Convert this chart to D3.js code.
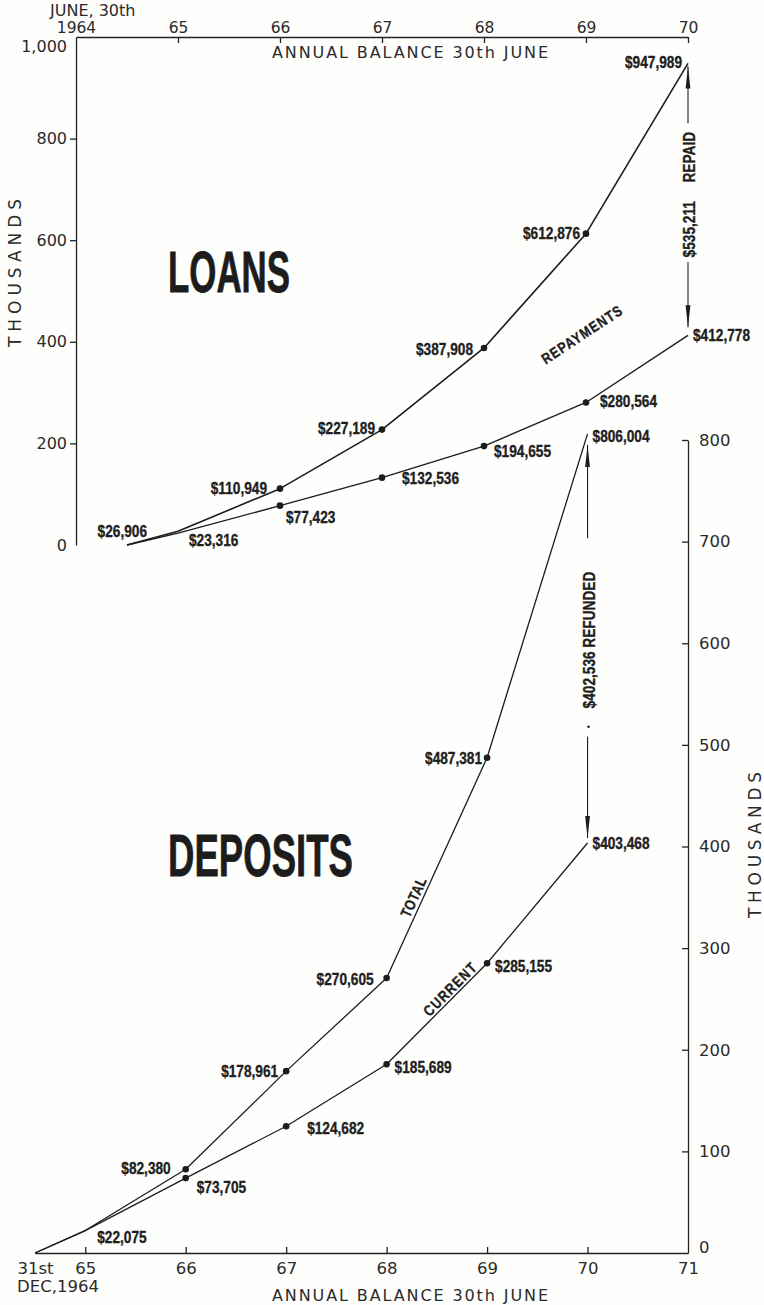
<!DOCTYPE html>
<html>
<head>
<meta charset="utf-8">
<script src="https://cdn.jsdelivr.net/npm/d3@7"></script>
<style>
  body { margin: 0; background: #fefefd; }
  svg { display: block; }
  .val { font-family: "Liberation Sans Narrow", "Liberation Sans", Arial, sans-serif; font-weight: bold; font-size: 16.5px; fill: #1e1e1e; stroke: #1e1e1e; stroke-width: 0.35px; }
  .lbl { font-family: "DejaVu Sans", sans-serif; fill: #2b2b2b; }
  .big { font-family: "Liberation Sans Narrow", "Liberation Sans", Arial, sans-serif; font-weight: bold; fill: #1c1c1c; stroke: #1c1c1c; stroke-width: 0.8px; }
</style>
</head>
<body>
<script>
// values in thousands of dollars, years = balance at 30th June (1964.5 = 31st Dec 1964)
const loanYears = [1964.5, 1965, 1966, 1967, 1968, 1969, 1970];
const loansTotal = [0, 26.906, 110.949, 227.189, 387.908, 612.876, 947.989];
const loansRepaid = [0, 23.316, 77.423, 132.536, 194.655, 280.564, 412.778];

const depYears = [1964.5, 1965, 1966, 1967, 1968, 1969, 1970];
const depTotal = [0, 22.075, 82.380, 178.961, 270.605, 487.381, 806.004];
const depCurrent = [0, 22.075, 73.705, 124.682, 185.689, 285.155, 403.468];

const topTicks = [1964, 1965, 1966, 1967, 1968, 1969, 1970];
const bottomTicks = [1964.5, 1965, 1966, 1967, 1968, 1969, 1970, 1971];
const loanTicks = [0, 200, 400, 600, 800, 1000];
const depTicks = [0, 100, 200, 300, 400, 500, 600, 700, 800];

// label placement [dx, dy, anchor] per point (layout only)
const loanTotalLab = [null, [-31, 6, "end"], [-13, 5, "end"], [-7, 4, "end"], [-11, 7, "end"], [-6, 5, "end"], [-6, 5, "end"]];
const loanRepaidLab = [null, [11, 13, "start"], [6, 17, "start"], [20, 6, "start"], [10, 11, "start"], [14, 5, "start"], [5, 6, "start"]];
const depTotalLab = [null, [12, 12, "start"], [-15, 5, "end"], [-8, 6, "end"], [-13, 7, "end"], [-5, 6, "end"], [5, 8, "start"]];
const depCurrentLab = [null, null, [11, 15, "start"], [21, 8, "start"], [8, 9, "start"], [8, 9, "start"], [5, 6, "start"]];

const width = 764, height = 1305;
const ink = "#1c1c1c";

const svg = d3.select("body").append("svg")
	.attr("width", width)
	.attr("height", height);

const xTop = d3.scaleLinear().domain([1964, 1970]).range([76, 688]);
const yLoan = d3.scaleLinear().domain([0, 1000]).range([545, 37]);
const xBot = d3.scaleLinear().domain([1964.5, 1971]).range([35, 688]);
const yDep = d3.scaleLinear().domain([0, 800]).range([1253, 440]);

const money = (v) => "$" + d3.format(",")(Math.round(v * 1000));

function styleAxis(g, size) {
	g.attr("font-family", "DejaVu Sans, sans-serif").attr("font-size", size);
	g.selectAll("path, line").attr("stroke", "#222").attr("stroke-width", 1.3);
	g.selectAll("text").attr("fill", "#2b2b2b");
}

// ---- axes ----
const topAxis = svg.append("g")
	.attr("transform", `translate(0,${yLoan(1000)})`)
	.call(d3.axisTop(xTop).tickValues(topTicks).tickSizeInner(-6).tickSizeOuter(0).tickPadding(4)
		.tickFormat((d) => (d === 1964 ? "1964" : String(d % 100))));
styleAxis(topAxis, 15.5);
topAxis.selectAll(".tick").filter((d) => d === 1964).select("line").remove();

const leftAxis = svg.append("g")
	.attr("transform", `translate(${xTop(1964)},0)`)
	.call(d3.axisLeft(yLoan).tickValues(loanTicks).tickSizeInner(6).tickSizeOuter(0).tickPadding(3)
		.tickFormat(d3.format(",")));
styleAxis(leftAxis, 16);
leftAxis.selectAll(".tick").filter((d) => d === 1000).select("text").attr("dy", "0.88em");
leftAxis.selectAll(".tick").filter((d) => d === 0 || d === 1000).select("line").remove();

const rightAxis = svg.append("g")
	.attr("transform", `translate(${xBot(1971)},0)`)
	.call(d3.axisRight(yDep).tickValues(depTicks).tickSizeInner(-6).tickSizeOuter(0).tickPadding(11)
		.tickFormat(d3.format("d")));
styleAxis(rightAxis, 16.5);
rightAxis.selectAll(".tick").filter((d) => d === 0).select("text").attr("dy", "-0.05em");
rightAxis.selectAll(".tick").filter((d) => d === 0).select("line").remove();

const bottomAxis = svg.append("g")
	.attr("transform", `translate(0,${yDep(0)})`)
	.call(d3.axisBottom(xBot).tickValues(bottomTicks).tickSizeInner(-6).tickSizeOuter(0).tickPadding(9)
		.tickFormat((d) => (d === 1964.5 ? "31st" : String(d % 100))));
styleAxis(bottomAxis, 16.5);
bottomAxis.selectAll(".tick").filter((d) => d === 1964.5 || d === 1971).select("line").remove();

// axis captions
svg.append("text").attr("class", "lbl").attr("x", 50).attr("y", 16).attr("font-size", 16).text("JUNE, 30th");
svg.append("text").attr("class", "lbl").attr("x", 17).attr("y", 1292).attr("font-size", 16.5).text("DEC,1964");

svg.append("text").attr("class", "lbl")
	.attr("x", 410).attr("y", 58).attr("text-anchor", "middle").attr("font-size", 16)
	.attr("textLength", 276).attr("lengthAdjust", "spacing")
	.text("ANNUAL BALANCE 30th JUNE");
svg.append("text").attr("class", "lbl")
	.attr("x", 410).attr("y", 1301).attr("text-anchor", "middle").attr("font-size", 16)
	.attr("textLength", 276).attr("lengthAdjust", "spacing")
	.text("ANNUAL BALANCE 30th JUNE");

function vertical(x, y, txt, cls, size, len) {
	const t = svg.append("text").attr("class", cls)
		.attr("transform", `translate(${x},${y}) rotate(-90)`)
		.attr("text-anchor", "middle").attr("dy", "0.35em")
		.style("font-size", size + "px").text(txt);
	if (len) t.attr("textLength", len).attr("lengthAdjust", "spacing");
	return t;
}
vertical(15, 273, "THOUSANDS", "lbl", 17, 148);
vertical(755, 845, "THOUSANDS", "lbl", 17, 146);

// big titles
svg.append("text").attr("class", "big").attr("x", 168).attr("y", 292)
	.attr("font-size", 58).attr("textLength", 122).attr("lengthAdjust", "spacingAndGlyphs").text("LOANS");
svg.append("text").attr("class", "big").attr("x", 168).attr("y", 876)
	.attr("font-size", 60).attr("textLength", 185).attr("lengthAdjust", "spacingAndGlyphs").text("DEPOSITS");

// ---- series ----
function drawSeries(xs, ys, years, vals, labs, sw) {
	const pts = years.map((yr, i) => [xs(yr), ys(vals[i])]);
	const line = d3.line();
	svg.append("path")
		.attr("d", line(pts))
		.attr("fill", "none")
		.attr("stroke", ink)
		.attr("stroke-width", sw)
		.attr("stroke-linejoin", "round");

	svg.append("g").selectAll("circle")
		.data(pts.slice(2, 6))
		.enter()
		.append("circle")
		.attr("cx", (d) => d[0])
		.attr("cy", (d) => d[1])
		.attr("r", 3.3)
		.attr("fill", ink);

	svg.append("g").selectAll("text")
		.data(pts.map((p, i) => ({ p: p, v: vals[i], lab: labs[i] })).filter((d) => d.lab))
		.enter()
		.append("text")
		.attr("class", "val")
		.attr("x", (d) => d.p[0] + d.lab[0])
		.attr("y", (d) => d.p[1] + d.lab[1])
		.attr("text-anchor", (d) => d.lab[2])
		.text((d) => money(d.v));
	return pts;
}

const pLoan = drawSeries(xTop, yLoan, loanYears, loansTotal, loanTotalLab, 1.6);
const pRepay = drawSeries(xTop, yLoan, loanYears, loansRepaid, loanRepaidLab, 1.4);
const pTotal = drawSeries(xBot, yDep, depYears, depTotal, depTotalLab, 1.3);
const pCurrent = drawSeries(xBot, yDep, depYears, depCurrent, depCurrentLab, 1.3);

// text along a segment: t = fraction along it, off = distance to the upper-left side
function alongLabel(a, b, t, off, txt, spacing) {
	const dx = b[0] - a[0], dy = b[1] - a[1];
	const len = Math.hypot(dx, dy);
	const ux = dx / len, uy = dy / len;
	const x = a[0] + dx * t + uy * off;
	const y = a[1] + dy * t - ux * off;
	const ang = Math.atan2(dy, dx) * 180 / Math.PI;
	svg.append("text").attr("class", "val")
		.attr("transform", `translate(${x},${y}) rotate(${ang})`)
		.attr("text-anchor", "middle").attr("dy", "0.35em")
		.style("font-size", "15px")
		.attr("letter-spacing", spacing)
		.text(txt);
}
alongLabel(pRepay[5], pRepay[6], 0.28, 59, "REPAYMENTS", 1.2);
alongLabel(pTotal[4], pTotal[5], 0.35, 9, "TOTAL", 0.5);
alongLabel(pCurrent[4], pCurrent[5], 0.69, 8, "CURRENT", 1.5);

// ---- difference arrows ----
function arrowHead(x, tipY, dir) {
	// dir = -1 points up, +1 points down
	const base = tipY - dir * 22;
	svg.append("path")
		.attr("d", `M${x},${tipY}L${x - 2.4},${base}L${x + 2.4},${base}Z`)
		.attr("fill", ink);
}
function vline(x, y1, y2) {
	svg.append("line").attr("x1", x).attr("x2", x).attr("y1", y1).attr("y2", y2)
		.attr("stroke", ink).attr("stroke-width", 1.1);
}

// loans repaid
{
	const x = xTop(1970);
	const y1 = yLoan(loansTotal[6]), y2 = yLoan(loansRepaid[6]);
	const span = y2 - y1;
	vline(x, y1 + 3, y1 + 0.22 * span);
	arrowHead(x, y1 + 3, -1);
	vertical(x + 1, y1 + 0.345 * span, "REPAID", "val", 16.5);
	vertical(x + 1, y1 + 0.61 * span, money(loansTotal[6] - loansRepaid[6]), "val", 16.5);
	vline(x, y1 + 0.73 * span, y2 - 8);
	arrowHead(x, y2 - 8, 1);
}

// deposits refunded
{
	const x = xBot(1970);
	const y1 = yDep(depTotal[6]), y2 = yDep(depCurrent[6]);
	const span = y2 - y1;
	vline(x, y1 + 11, y1 + 0.255 * span);
	arrowHead(x, y1 + 11, -1);
	vertical(x + 2, y1 + 0.504 * span, money(depTotal[6] - depCurrent[6]) + " REFUNDED", "val", 16.5);
	svg.append("circle").attr("cx", x + 1).attr("cy", y1 + 0.716 * span).attr("r", 1.3).attr("fill", ink);
	vline(x, y1 + 0.74 * span, y2 - 5);
	arrowHead(x, y2 - 5, 1);
}

// squeeze the bold value labels to the narrow width of the original lettering
const probe = svg.append("text").attr("class", "val").text(money(loansTotal[6]));
const ratio = Math.min(1, 57 / probe.node().getComputedTextLength());
probe.remove();
svg.selectAll("text.val").each(function () {
	const n = this.getComputedTextLength();
	d3.select(this).attr("textLength", n * ratio).attr("lengthAdjust", "spacingAndGlyphs");
});
</script>
</body>
</html>
